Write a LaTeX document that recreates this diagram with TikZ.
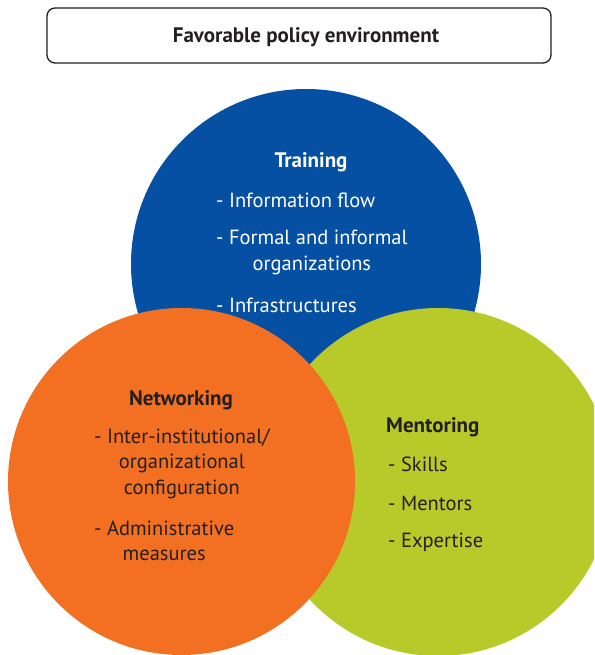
\documentclass[tikz,border=0pt]{standalone}
\usepackage{fontspec}
\setmainfont{PT Sans}
\usepackage{tikz}
\usetikzlibrary{shapes, positioning}
\definecolor{trainblue}{HTML}{0550A2}
\definecolor{netorange}{HTML}{F37022}
\definecolor{mentgreen}{HTML}{B8CA29}
\definecolor{inkgray}{HTML}{231F20}

\begin{document}
\begin{tikzpicture}[x=1pt,y=-1pt,
    field/.style={circle,minimum size=#1,inner sep=0pt},
    head/.style={font=\fontsize{21}{25}\selectfont\bfseries},
    item/.style={font=\fontsize{20.5}{25.5}\selectfont,align=center,anchor=west,inner sep=0pt}]
        \useasboundingbox (0,0) rectangle (594,655);
        \clip (0,0) rectangle (594,655);
        % the frame on top
        \node[draw=inkgray,line width=1.3pt,rounded corners=8pt,minimum width=504pt,minimum height=55pt] (P) at (299,35.5) {};
        \node[head,text=inkgray] (PT) at (306,37) {Favorable policy environment};

        % the three circles, blue at the back, orange in front
        \node[field=350pt,fill=trainblue] (T) at (306,264) {};
        \node[field=348pt,fill=mentgreen] (M) at (438,482) {};
        \node[field=347pt,fill=netorange] (N) at (181.5,481.5) {};

        % training
        \node[head,text=white] (T0) at (311,162) {Training};
        \node[item,text=white] (T1) at (216,200) {- Information flow};
        \node[item,text=white] (T2) at (216,252.5) {- Formal and informal\\organizations};
        \node[item,text=white] (T3) at (216,305) {- Infrastructures};

        % networking
        \node[head,text=inkgray] (N0) at (181,400) {Networking};
        \node[item,text=inkgray] (N1) at (94,463.5) {- Inter-institutional/\\organizational\\configuration};
        \node[item,text=inkgray] (N2) at (94,541) {- Administrative\\measures};

        % mentoring
        \node[head,text=inkgray,anchor=west,inner sep=0pt] (M0) at (386,427) {Mentoring};
        \node[item,text=inkgray] (M1) at (388,464) {- Skills};
        \node[item,text=inkgray] (M2) at (388,503) {- Mentors};
        \node[item,text=inkgray] (M3) at (388,542) {- Expertise};
    \end{tikzpicture}
\end{document}
